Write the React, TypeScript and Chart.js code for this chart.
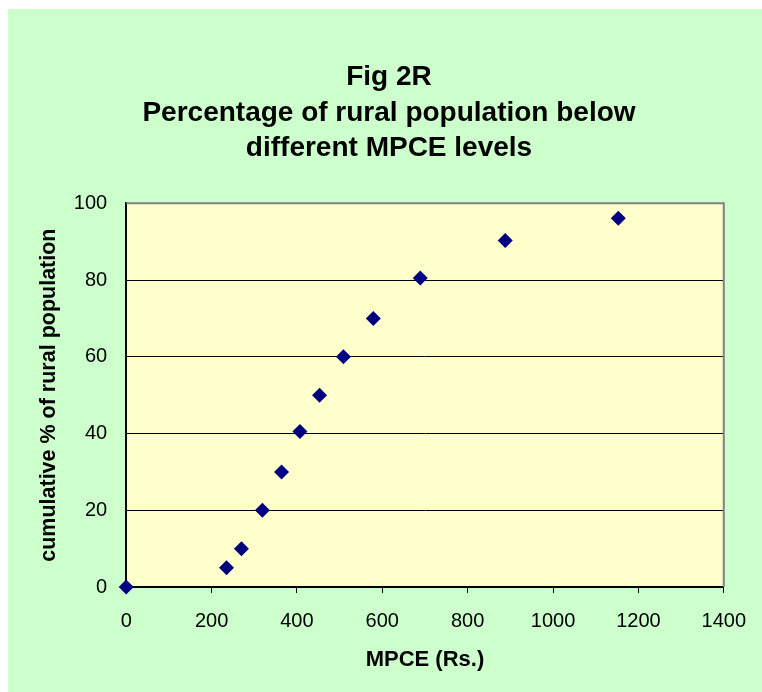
import React, { useEffect, useRef } from "react";
import { Chart, registerables } from "chart.js";

Chart.register(...registerables);

const titleLines = ["Fig 2R", "Percentage of rural population below", "different MPCE levels"];
const xTitle = "MPCE (Rs.)";
const yTitle = "cumulative % of rural population";
const mpceValues = [0, 235, 270, 319, 364, 407, 453, 509, 579, 689, 888, 1153];
const cumulativePct = [0, 5, 10, 20, 30, 40.5, 50, 60, 70, 80.5, 90.3, 96.1];

const FONT = "'Liberation Sans', Arial, sans-serif";

const bgPlugin = {
  id: "plotBg",
  beforeDraw(chart: any) {
    const { ctx, chartArea } = chart;
    ctx.save();
    ctx.fillStyle = "#FFFFCC";
    ctx.fillRect(chartArea.left, chartArea.top, chartArea.right - chartArea.left, chartArea.bottom - chartArea.top);
    ctx.restore();
  },
  afterDraw(chart: any) {
    const { ctx, chartArea } = chart;
    ctx.save();
    ctx.strokeStyle = "#808080";
    ctx.lineWidth = 2;
    ctx.beginPath();
    ctx.moveTo(chartArea.left, chartArea.top);
    ctx.lineTo(chartArea.right, chartArea.top);
    ctx.lineTo(chartArea.right, chartArea.bottom);
    ctx.stroke();
    ctx.fillStyle = "#000000";
    ctx.font = `bold 28px ${FONT}`;
    ctx.textAlign = "center";
    ctx.textBaseline = "alphabetic";
    const baselines = [76, 111.5, 147];
    titleLines.forEach((t, i) => ctx.fillText(t, 381, baselines[i]));
    ctx.restore();
  },
};

export default function App() {
  const ref = useRef<HTMLCanvasElement | null>(null);
  useEffect(() => {
    if (!ref.current) return;
    const data = mpceValues.map((x, i) => ({ x, y: cumulativePct[i] }));
    const chart = new Chart(ref.current, {
      type: "scatter",
      data: {
        datasets: [
          {
            data,
            pointStyle: "rectRot",
            pointRadius: 7.5,
            pointHoverRadius: 7.5,
            backgroundColor: "#000080",
            borderColor: "#000080",
            borderWidth: 0,
            clip: false,
          },
        ],
      },
      options: {
        animation: false,
        responsive: false,
        events: [],
        layout: { padding: { left: 0, right: 37.3, top: 194.3, bottom: 0 } },
        plugins: { legend: { display: false }, tooltip: { enabled: false }, title: { display: false } },
        scales: {
          x: {
            type: "linear",
            min: 0,
            max: 1400,
            afterFit: (s: any) => { s.height = 105; },
            ticks: {
              stepSize: 200,
              color: "#000",
              font: { family: FONT, size: 20 },
              padding: 16,
              maxRotation: 0,
              callback: (v: any) => String(v),
            },
            grid: { drawOnChartArea: false, drawTicks: true, tickLength: 6, color: "#000", lineWidth: 1 },
            border: { color: "#000", width: 2 },
            title: { display: true, text: xTitle, color: "#000", font: { family: FONT, size: 22, weight: "bold" }, padding: { top: 0, bottom: 19 } },
          },
          y: {
            min: 0,
            max: 100,
            afterFit: (s: any) => { s.width = 118.2; },
            ticks: { stepSize: 20, color: "#000", font: { family: FONT, size: 20 }, padding: 19, callback: (v: any) => String(v) },
            grid: { drawTicks: false, color: "#000", lineWidth: 1 },
            border: { color: "#000", width: 2 },
            title: { display: true, text: yTitle, color: "#000", font: { family: FONT, size: 21.5, weight: "bold" }, padding: { top: 28.5, bottom: 0 } },
          },
        },
      },
      plugins: [bgPlugin],
    });
    return () => chart.destroy();
  }, []);
  return (
    <div style={{ position: "fixed", left: 8, top: 9, right: 0, bottom: 0, background: "#CCFFCC" }}>
      <canvas ref={ref} width={754} height={683} style={{ display: "block" }} />
    </div>
  );
}
